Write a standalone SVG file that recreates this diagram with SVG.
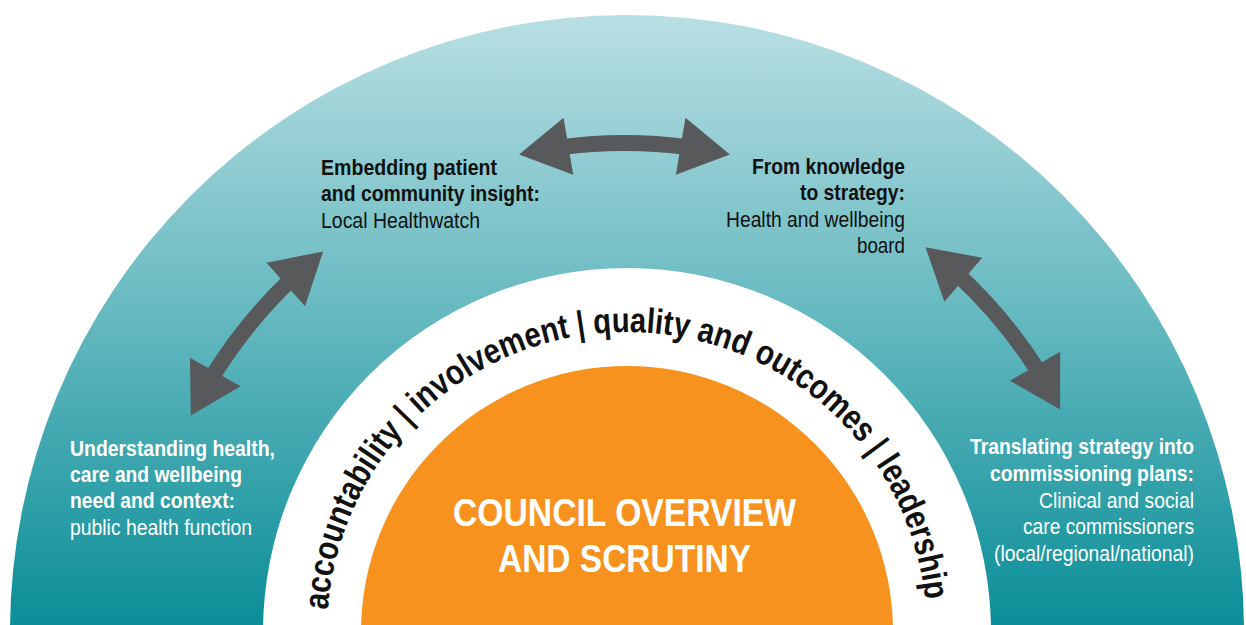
<svg xmlns="http://www.w3.org/2000/svg" xmlns:xlink="http://www.w3.org/1999/xlink" width="1246" height="625" viewBox="0 0 1246 625">
  <style>
    .lbl { font-family: "Liberation Sans Narrow", "Liberation Sans", Arial, sans-serif; font-size: 22px; }
    .b { font-weight: bold; }
    .dark { fill: #111111; }
    .light { fill: #ffffff; }
    .arrow { fill: #58595b; }
    .ring { font-family: "Liberation Sans Narrow", "Liberation Sans", Arial, sans-serif; font-size: 35px; font-weight: bold; fill: #111111; }
    .core { font-family: "Liberation Sans Narrow", "Liberation Sans", Arial, sans-serif; font-size: 39px; font-weight: bold; fill: #ffffff; }
  </style>
  <defs>
    <linearGradient id="teal" x1="0" y1="15" x2="0" y2="625" gradientUnits="userSpaceOnUse">
      <stop offset="0" stop-color="#b9dfe3"/>
      <stop offset="0.5" stop-color="#64b8bf"/>
      <stop offset="1" stop-color="#0b8e98"/>
    </linearGradient>
    <!-- curved two-way arrow centred on the top of the ring (radius 487 about 627,632) -->
    <g id="twoWay">
      <path d="M 562.39 141.24 A 495 495 0 0 1 691.61 141.24 L 689.52 157.10 A 479 479 0 0 0 564.48 157.10 Z"/>
      <path d="M 521.59 156.54 L 566.04 119.65 L 575.66 176.85 Z"/>
      <path d="M 732.41 156.54 L 687.96 119.65 L 678.34 176.85 Z"/>
    </g>
    <path id="ringPath" d="M 327 632 A 300 300 0 0 1 927 632"/>
  </defs>

  <!-- background bands -->
  <g id="outer-band">
    <circle cx="627" cy="632" r="617" fill="url(#teal)"/>
  </g>
  <g id="values-ring" class="ring">
    <circle cx="627" cy="632" r="364" fill="#ffffff"/>
    <text><textPath xlink:href="#ringPath" href="#ringPath" startOffset="22" textLength="197" lengthAdjust="spacingAndGlyphs">accountability</textPath></text>
    <text><textPath xlink:href="#ringPath" href="#ringPath" startOffset="227" textLength="8" lengthAdjust="spacingAndGlyphs">|</textPath></text>
    <text><textPath xlink:href="#ringPath" href="#ringPath" startOffset="243" textLength="171" lengthAdjust="spacingAndGlyphs">involvement</textPath></text>
    <text><textPath xlink:href="#ringPath" href="#ringPath" startOffset="422" textLength="8" lengthAdjust="spacingAndGlyphs">|</textPath></text>
    <text><textPath xlink:href="#ringPath" href="#ringPath" startOffset="438" textLength="301" lengthAdjust="spacingAndGlyphs">quality and outcomes</textPath></text>
    <text><textPath xlink:href="#ringPath" href="#ringPath" startOffset="747" textLength="8" lengthAdjust="spacingAndGlyphs">|</textPath></text>
    <text><textPath xlink:href="#ringPath" href="#ringPath" startOffset="764" textLength="146" lengthAdjust="spacingAndGlyphs">leadership</textPath></text>
  </g>
  <g id="council-core">
    <circle cx="627" cy="632" r="266" fill="#f7921e"/>
    <text class="core" x="453" y="526" textLength="343" lengthAdjust="spacingAndGlyphs">COUNCIL OVERVIEW</text>
    <text class="core" x="498" y="572" textLength="253" lengthAdjust="spacingAndGlyphs">AND SCRUTINY</text>
  </g>

  <!-- connectors -->
  <g id="connectors" class="arrow">
    <use xlink:href="#twoWay" href="#twoWay" transform="translate(-2.5,-2)"/>
    <use xlink:href="#twoWay" href="#twoWay" transform="rotate(-51.1 627 632)"/>
    <use xlink:href="#twoWay" href="#twoWay" transform="rotate(50.3 627 632)"/>
  </g>

  <!-- nodes -->
  <g id="node-healthwatch" class="lbl dark">
    <text class="b" x="321" y="175" textLength="176" lengthAdjust="spacingAndGlyphs">Embedding patient</text>
    <text class="b" x="321" y="201" textLength="219" lengthAdjust="spacingAndGlyphs">and community insight:</text>
    <text x="321" y="227.5" textLength="159" lengthAdjust="spacingAndGlyphs">Local Healthwatch</text>
  </g>
  <g id="node-hwb" class="lbl dark">
    <text class="b" x="752" y="174" textLength="153" lengthAdjust="spacingAndGlyphs">From knowledge</text>
    <text class="b" x="800" y="200" textLength="105" lengthAdjust="spacingAndGlyphs">to strategy:</text>
    <text x="726" y="226.5" textLength="179" lengthAdjust="spacingAndGlyphs">Health and wellbeing</text>
    <text x="857" y="253" textLength="48" lengthAdjust="spacingAndGlyphs">board</text>
  </g>
  <g id="node-public-health" class="lbl light">
    <text class="b" x="70" y="455.5" textLength="205" lengthAdjust="spacingAndGlyphs">Understanding health,</text>
    <text class="b" x="70" y="481.5" textLength="172" lengthAdjust="spacingAndGlyphs">care and wellbeing</text>
    <text class="b" x="70" y="507.5" textLength="165" lengthAdjust="spacingAndGlyphs">need and context:</text>
    <text x="70" y="534.5" textLength="182" lengthAdjust="spacingAndGlyphs">public health function</text>
  </g>
  <g id="node-commissioners" class="lbl light">
    <text class="b" x="970" y="454" textLength="224" lengthAdjust="spacingAndGlyphs">Translating strategy into</text>
    <text class="b" x="990" y="481" textLength="204" lengthAdjust="spacingAndGlyphs">commissioning plans:</text>
    <text x="1039" y="507.5" textLength="155" lengthAdjust="spacingAndGlyphs">Clinical and social</text>
    <text x="1023" y="534" textLength="171" lengthAdjust="spacingAndGlyphs">care commissioners</text>
    <text x="994" y="560.5" textLength="200" lengthAdjust="spacingAndGlyphs">(local/regional/national)</text>
  </g>
</svg>
